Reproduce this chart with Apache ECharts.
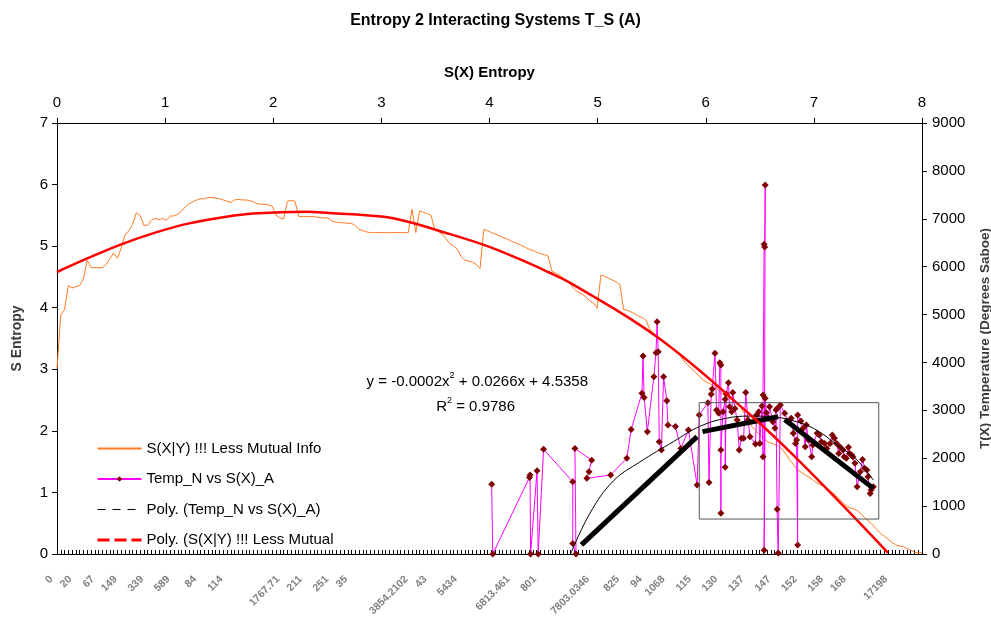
<!DOCTYPE html>
<html>
<head>
<meta charset="utf-8">
<script src="https://cdn.jsdelivr.net/npm/echarts@6/dist/echarts.min.js"></script>
<style>
html,body{margin:0;padding:0;background:#fff;}
#chart{width:991px;height:637px;}
</style>
</head>
<body>
<div id="chart"></div>
<script>
// ---- Data ----
// Orange line: S(X|Y) !!! Less Mutual Info, one value per category
const sxyLessMutual = [
3.01,3.88,3.97,4.36,4.32,4.34,4.36,4.47,4.77,4.65,
4.65,4.65,4.65,4.70,4.80,4.89,4.80,4.97,5.18,5.25,
5.35,5.54,5.50,5.34,5.34,5.42,5.45,5.43,5.45,5.42,
5.49,5.49,5.52,5.57,5.64,5.69,5.72,5.75,5.77,5.77,
5.79,5.79,5.78,5.77,5.75,5.73,5.71,5.75,5.76,5.75,
5.75,5.74,5.72,5.69,5.68,5.68,5.67,5.65,5.50,5.46,
5.44,5.73,5.74,5.73,5.48,5.48,5.48,5.48,5.48,5.47,
5.46,5.46,5.45,5.40,5.39,5.38,5.38,5.37,5.37,5.33,
5.27,5.25,5.23,5.22,5.22,5.22,5.22,5.22,5.22,5.22,
5.22,5.22,5.22,5.22,5.60,5.22,5.57,5.55,5.53,5.50,
5.28,5.24,5.19,5.12,5.04,5.00,4.95,4.83,4.77,4.76,
4.74,4.70,4.64,5.27,5.25,5.22,5.20,5.17,5.14,5.12,
5.09,5.06,5.04,5.01,4.98,4.95,4.93,4.90,4.88,4.86,
4.84,4.60,4.56,4.53,4.48,4.44,4.38,4.30,4.25,4.22,
4.18,4.11,4.08,3.99,4.53,4.51,4.48,4.45,4.42,4.38,
3.97,3.96,3.93,3.90,3.86,3.84,3.79,3.64,3.58,3.52,
3.47,3.42,3.37,3.33,3.28,3.23,3.13,3.07,3.01,2.95,
2.89,2.83,2.79,2.76,2.73,2.67,2.61,2.57,2.53,2.49,
2.44,2.38,2.28,2.17,2.07,2.00,1.94,1.88,1.83,1.80,
1.78,1.75,1.70,1.62,1.53,1.45,1.37,1.33,1.29,1.25,
1.21,1.16,1.13,1.10,1.06,1.01,0.96,0.90,0.84,0.78,
0.75,0.73,0.70,0.64,0.58,0.53,0.47,0.40,0.34,0.29,
0.24,0.19,0.15,0.13,0.12,0.09,0.06,0.03,0.02,0.02
];

// Bottom category tick labels (shown ones) and the category index they sit on
const catLabelIndex = [0,5,11,17,24,31,38,45,60,66,73,78,94,99,107,121,128,142,150,156,162,169,176,183,190,197,204,210,221];
const catLabelText  = ["0","20","67","149","339","589","84","114","1767.71","211","251","35","3854.2102","43","5434","6813.461","801","7803.0346","825","94","1068","115","130","137","147","152","158","168","17198"];

// Red polynomial trend of the orange line: [category index, S]
const polyIdx = [0,8,17,26,35,44,52,66,72,86,94,100,113,122,130,136,159,183,197,220];
const polyVal = [4.58,4.80,5.03,5.22,5.37,5.47,5.53,5.56,5.54,5.48,5.38,5.27,5.02,4.80,4.58,4.40,3.52,2.29,1.48,0.02];

// Magenta: Temp_N vs S(X)_A  (x = S(X) entropy, y = temperature)
const sxA = [
4.02,4.03,4.37,4.375,4.38,4.44,4.45,4.50,4.77,4.77,4.80,4.79,4.945,4.92,4.90,5.12,5.27,5.31,5.41,5.42,
5.43,5.46,5.52,5.54,5.55,5.56,5.57,5.59,5.61,5.64,5.65,5.72,5.77,5.84,5.92,5.94,
6.02,6.03,6.05,6.06,6.085,6.10,6.12,6.13,6.14,6.14,6.14,6.16,6.18,6.18,6.19,6.21,6.22,6.24,6.25,6.27,
6.29,6.31,6.33,6.35,6.37,6.39,6.41,6.46,6.47,6.49,6.50,6.52,6.53,6.53,6.54,6.545,6.55,6.54,6.55,6.56,
6.58,6.59,6.62,6.64,6.65,6.66,6.66,6.67,6.69,6.73,6.76,6.79,6.81,6.83,6.84,6.85,6.85,6.88,6.90,6.92,
6.93,6.95,6.98,6.99,7.03,7.05,7.07,7.10,7.12,7.15,7.17,7.19,7.21,7.23,7.24,7.27,7.28,7.30,7.32,7.33,
7.35,7.36,7.38,7.40,7.43,7.45,7.47,7.49,7.50,7.52,7.53,7.55
];
const tempN = [
1455,0,1600,1650,0,1740,0,2185,1510,220,0,2205,1960,1720,1580,1650,2000,2600,3355,4135,
3270,2555,3700,4205,4850,4225,2345,2170,3700,3200,2695,2660,2205,2590,1440,2900,
3160,1495,3335,3445,4190,3005,2940,3995,3945,850,2170,2970,3230,1810,3340,3575,3075,2970,3370,3040,
2800,2170,2415,2415,3370,2800,2450,2295,2900,2970,2310,3090,2030,3320,6470,6410,7705,80,3250,2950,
2835,3075,2760,2625,3005,3040,935,20,3110,2940,2760,2835,2520,2310,2380,190,2900,2775,2625,2240,
2695,2380,2030,2275,2520,2485,2345,2310,2205,2310,2485,2415,2310,2100,2240,2170,2030,2000,2230,2100,
2065,2030,1895,1405,1720,1975,1790,1755,1615,1265,1335,1405
];

// Black thin polynomial trend of the magenta series
const polyTS = [4.75,4.93,5.145,5.39,5.70,5.95,6.19,6.41,6.62,6.78,6.995,7.24,7.40,7.55];
const polyTT = [0,855,1525,1920,2345,2670,2835,2880,2865,2800,2625,2240,1960,1545];

// Thick black segments: [S start, T start, S end, T end]
const thickSegs = [
  [4.85,190,5.92,2450],
  [5.97,2555,6.67,2865],
  [6.73,2810,7.55,1370]
];

// Rectangle drawn over the chart: S range and T range
const boxS = [5.94,7.60];
const boxT = [730,3160];

const titleText = 'Entropy 2 Interacting Systems T_S (A)';

// ---- Build ----
const categories = sxyLessMutual.map(() => '');
catLabelIndex.forEach((ix, k) => { categories[ix] = catLabelText[k]; });

const FONT = 'Liberation Sans, Arial, sans-serif';
const chart = echarts.init(document.getElementById('chart'), null, {renderer: 'canvas'});

const thickSeries = thickSegs.map(s => ({
  type: 'line', xAxisIndex: 1, yAxisIndex: 1, symbol: 'none', silent: true,
  data: [[s[0], s[1]], [s[2], s[3]]],
  lineStyle: {color: '#000', width: 5}, z: 4
}));

const noLine = {onZero: false, show: true, lineStyle: {color: '#000', width: 1}};

const option = {
  animation: false,
  backgroundColor: '#fff',
  textStyle: {fontFamily: FONT},
  title: {
    text: titleText, left: 'center', top: 8,
    textStyle: {fontFamily: FONT, fontSize: 16, fontWeight: 'bold', color: '#000'}
  },
  grid: {left: 57, right: 69, top: 123, bottom: 83, containLabel: false, outerBoundsMode: 'none'},
  legend: {
    orient: 'vertical', left: 96, top: 441, padding: 0, itemWidth: 44, itemHeight: 7, itemGap: 15.5,
    textStyle: {fontFamily: FONT, fontSize: 15, color: '#000'},
    data: [
      {name: 'S(X|Y) !!! Less Mutual Info', itemStyle: {opacity: 0}},
      {name: 'Temp_N vs S(X)_A'},
      {name: 'Poly. (Temp_N vs S(X)_A)', itemStyle: {opacity: 0}, lineStyle: {type: [8, 7], width: 1}},
      {name: 'Poly. (S(X|Y) !!! Less Mutual', itemStyle: {opacity: 0}, lineStyle: {type: [12, 5], width: 3}}
    ]
  },
  xAxis: [
    {
      type: 'category', data: categories, boundaryGap: false, position: 'bottom',
      axisLine: noLine,
      axisTick: {interval: 0, inside: true, length: 4, lineStyle: {color: '#000'}},
      axisLabel: {interval: 0, rotate: 45, fontSize: 10.5, fontWeight: 'bold', color: '#808080', margin: 18, padding: [0, 8, 0, 0], fontFamily: FONT},
      splitLine: {show: false}
    },
    {
      type: 'value', position: 'top', min: 0, max: 8, interval: 1,
      name: 'S(X) Entropy', nameLocation: 'middle', nameGap: 43,
      nameTextStyle: {fontFamily: FONT, fontWeight: 'bold', fontSize: 15, color: '#000'},
      axisLine: noLine,
      axisTick: {show: true, length: 5, lineStyle: {color: '#000'}},
      axisLabel: {fontSize: 15, color: '#000', margin: 13, fontFamily: FONT},
      splitLine: {show: false}
    },
    {type: 'value', min: 0, max: sxyLessMutual.length - 1, show: false, position: 'bottom', axisLine: {onZero: false}}
  ],
  yAxis: [
    {
      type: 'value', position: 'left', min: 0, max: 7, interval: 1,
      name: 'S Entropy', nameLocation: 'middle', nameRotate: 90, nameGap: 33,
      nameTextStyle: {fontFamily: FONT, fontWeight: 'bold', fontSize: 14, color: '#3a3a3a'},
      axisLine: noLine,
      axisTick: {show: true, length: 5, lineStyle: {color: '#000'}},
      axisLabel: {fontSize: 15, color: '#000', margin: 9, fontFamily: FONT},
      splitLine: {show: false}
    },
    {
      type: 'value', position: 'right', min: 0, max: 9000, interval: 1000,
      name: 'T(X) Temperature (Degrees Saboe)', nameLocation: 'middle', nameRotate: 90, nameGap: 56,
      nameTextStyle: {fontFamily: FONT, fontWeight: 'bold', fontSize: 13.5, color: '#3a3a3a'},
      axisLine: noLine,
      axisTick: {show: true, length: 5, lineStyle: {color: '#000'}},
      axisLabel: {fontSize: 15, color: '#000', margin: 10, fontFamily: FONT, formatter: v => String(v)},
      splitLine: {show: false}
    }
  ],
  series: [
    {
      name: 'S(X|Y) !!! Less Mutual Info', type: 'line', xAxisIndex: 0, yAxisIndex: 0,
      data: sxyLessMutual, symbol: 'none', lineStyle: {color: '#ff7b22', width: 1},
      itemStyle: {color: '#ff7b22'}, z: 2
    },
    {
      name: 'Temp_N vs S(X)_A', type: 'line', xAxisIndex: 1, yAxisIndex: 1,
      data: sxA.map((s, i) => [s, tempN[i]]),
      symbol: 'diamond', symbolSize: 7, showSymbol: true,
      itemStyle: {color: '#800000'}, lineStyle: {color: '#ff00ff', width: 1}, z: 3
    },
    {
      name: 'Poly. (Temp_N vs S(X)_A)', type: 'line', xAxisIndex: 1, yAxisIndex: 1,
      data: polyTS.map((s, i) => [s, polyTT[i]]), smooth: 0.4, symbol: 'none',
      lineStyle: {color: '#000', width: 1}, itemStyle: {color: '#000'}, z: 4
    },
    {
      name: 'Poly. (S(X|Y) !!! Less Mutual', type: 'line', xAxisIndex: 2, yAxisIndex: 0,
      data: polyIdx.map((x, i) => [x, polyVal[i]]), smooth: 0.4, symbol: 'none',
      lineStyle: {color: '#ff0000', width: 2.5}, itemStyle: {color: '#ff0000'}, z: 5
    },
    ...thickSeries,
    {
      type: 'line', xAxisIndex: 1, yAxisIndex: 1, symbol: 'none', silent: true,
      data: [[boxS[0], boxT[1]], [boxS[1], boxT[1]], [boxS[1], boxT[0]], [boxS[0], boxT[0]], [boxS[0], boxT[1]]],
      lineStyle: {color: '#555', width: 1}, z: 6
    }
  ],
  graphic: [
    {
      type: 'text', x: 588, y: 380,
      style: {
        text: '{a|y = -0.0002x}{s|2}{a| + 0.0266x + 4.5358}',
        align: 'right', verticalAlign: 'middle',
        rich: {
          a: {fontSize: 15, fontFamily: FONT, lineHeight: 18, verticalAlign: 'bottom', fill: '#000'},
          s: {fontSize: 9, fontFamily: FONT, lineHeight: 10, verticalAlign: 'top', fill: '#000'}
        }
      }
    },
    {
      type: 'text', x: 515, y: 405,
      style: {
        text: '{a|R}{s|2}{a| = 0.9786}',
        align: 'right', verticalAlign: 'middle',
        rich: {
          a: {fontSize: 15, fontFamily: FONT, lineHeight: 18, verticalAlign: 'bottom', fill: '#000'},
          s: {fontSize: 9, fontFamily: FONT, lineHeight: 10, verticalAlign: 'top', fill: '#000'}
        }
      }
    }
  ]
};
chart.setOption(option);
</script>
</body>
</html>
